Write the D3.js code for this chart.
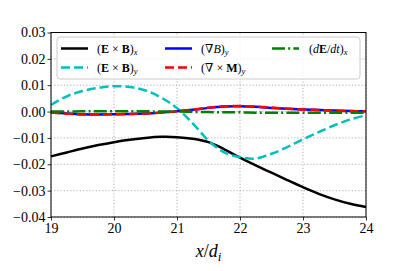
<!DOCTYPE html>
<html>
<head>
<meta charset="utf-8">
<script src="https://cdn.jsdelivr.net/npm/d3@7"></script>
<style>
  body { margin: 0; background: #fff; }
  svg { display: block; }
  text { font-family: 'Liberation Serif', 'DejaVu Serif', serif; }
</style>
</head>
<body>
<svg id="chart" width="407" height="271"></svg>
<script>
const xs = [19, 19.25, 19.5, 19.75, 20, 20.25, 20.5, 20.75, 21, 21.25, 21.5,
            21.75, 22, 22.25, 22.5, 22.75, 23, 23.25, 23.5, 23.75, 24];

const exbX = [-0.0170, -0.0155, -0.0140, -0.0127, -0.0116, -0.0107, -0.0100, -0.0096, -0.0097, -0.0103, -0.0116,
              -0.0143, -0.0175, -0.0204, -0.0232, -0.0260, -0.0287, -0.0312, -0.0333, -0.0350, -0.0362];
const exbY = [0.0025, 0.0058, 0.0078, 0.0090, 0.0096, 0.0093, 0.0080, 0.0053, 0.0013, -0.0045, -0.0110,
              -0.0155, -0.0173, -0.0178, -0.0160, -0.0135, -0.0105, -0.0078, -0.0052, -0.0030, -0.0014];
const gradB = [-0.0003, -0.0007, -0.0010, -0.0011, -0.0010, -0.0009, -0.0007, -0.0004, 0.0001, 0.0007, 0.0014,
               0.0019, 0.0020, 0.0018, 0.0014, 0.0011, 0.0008, 0.0006, 0.0004, 0.0002, 0.0001];
const curlM = [-0.0004, -0.0008, -0.0011, -0.0011, -0.0010, -0.0009, -0.0007, -0.0004, 0.0001, 0.0007, 0.0015,
               0.0020, 0.0021, 0.0019, 0.0015, 0.0011, 0.0008, 0.0006, 0.0004, 0.0002, 0.0001];
const dEdt = [0.0000, 0.0000, 0.0001, 0.0001, 0.0001, 0.0001, 0.0001, 0.0000, 0.0000, -0.0001, -0.0002,
              -0.0003, -0.0003, -0.0004, -0.0004, -0.0004, -0.0004, -0.0004, -0.0004, -0.0004, -0.0004];

const xTicks = [19, 20, 21, 22, 23, 24];
const yTicks = [-0.04, -0.03, -0.02, -0.01, 0.00, 0.01, 0.02, 0.03];

const series = [
  { name: 'exbx', y: exbX, color: '#000000', dash: null },
  { name: 'exby', y: exbY, color: '#00bfbf', dash: '9,4' },
  { name: 'gradb', y: gradB, color: '#0000ff', dash: null },
  { name: 'curlm', y: curlM, color: '#ff0000', dash: '9,4' },
  { name: 'dedt', y: dEdt, color: '#008000', dash: '13,3.2,2,3.2' }
];

const svg = d3.select('#chart');
const margin = { left: 51, right: 41, top: 32.5, bottom: 54 };
const width = 407, height = 271;

const x = d3.scaleLinear().domain([19, 24]).range([margin.left, width - margin.right]);
const y = d3.scaleLinear().domain([-0.04, 0.03]).range([height - margin.bottom, margin.top]);

// grid
const grid = svg.append('g');
grid.selectAll('line.gx').data(xTicks).enter().append('line')
  .attr('x1', d => x(d)).attr('x2', d => x(d))
  .attr('y1', y(-0.04)).attr('y2', y(0.03))
  .attr('stroke', '#b0b0b0').attr('stroke-width', 1).attr('stroke-dasharray', '1.2,2');
grid.selectAll('line.gy').data(yTicks).enter().append('line')
  .attr('x1', x(19)).attr('x2', x(24))
  .attr('y1', d => y(d)).attr('y2', d => y(d))
  .attr('stroke', '#b0b0b0').attr('stroke-width', 1).attr('stroke-dasharray', '1.2,2');

// curves
const line = d3.line()
  .x((d, i) => x(xs[i]))
  .y(d => y(d))
  .curve(d3.curveCatmullRom);

svg.append('g').selectAll('path').data(series).enter().append('path')
  .attr('d', d => line(d.y))
  .attr('fill', 'none')
  .attr('stroke', d => d.color)
  .attr('stroke-width', 2.5)
  .attr('stroke-dasharray', d => d.dash);

// axes
const fmt = d => d3.format('.2f')(d).replace('-', '\u2212');
const xAxis = svg.append('g')
  .attr('transform', `translate(0,${y(-0.04)})`)
  .call(d3.axisBottom(x).tickValues(xTicks).tickSize(3.5).tickPadding(3).tickFormat(d3.format('d')));
const yAxis = svg.append('g')
  .attr('transform', `translate(${x(19)},0)`)
  .call(d3.axisLeft(y).tickValues(yTicks).tickSize(3.5).tickPadding(2).tickFormat(fmt));
[xAxis, yAxis].forEach(a => {
  a.select('.domain').remove();
  a.selectAll('line').attr('stroke', '#000').attr('stroke-width', 0.8);
  a.selectAll('text').attr('font-family', "'Liberation Serif', serif")
    .attr('font-size', 14).attr('fill', '#000');
});

// frame
svg.append('rect')
  .attr('x', x(19)).attr('y', y(0.03))
  .attr('width', x(24) - x(19)).attr('height', y(-0.04) - y(0.03))
  .attr('fill', 'none').attr('stroke', '#000').attr('stroke-width', 1);

// x label
const xl = svg.append('text')
  .attr('x', (x(19) + x(24)) / 2).attr('y', 257)
  .attr('text-anchor', 'middle')
  .attr('font-size', 18);
xl.append('tspan').attr('font-style', 'italic').text('x');
xl.append('tspan').text('/');
xl.append('tspan').attr('font-style', 'italic').text('d');
xl.append('tspan').attr('font-style', 'italic').attr('font-size', 13).attr('dy', 4).text('i');

// legend
const lg = svg.append('g');
lg.append('rect')
  .attr('x', 57).attr('y', 37).attr('width', 303).attr('height', 42)
  .attr('rx', 3).attr('fill', 'rgba(255,255,255,0.8)')
  .attr('stroke', '#cccccc').attr('stroke-width', 1);

const legendItems = [
  { s: series[0], lx: 61, ly: 48.5, parts: [['(', ''], ['E', 'b'], [' × ', ''], ['B', 'b'], [')', ''], ['x', 'si']] },
  { s: series[1], lx: 61, ly: 67.5, parts: [['(', ''], ['E', 'b'], [' × ', ''], ['B', 'b'], [')', ''], ['y', 'si']] },
  { s: series[2], lx: 165, ly: 48.5, parts: [['(∇', ''], ['B', 'i'], [')', ''], ['y', 'si']] },
  { s: series[3], lx: 165, ly: 67.5, parts: [['(∇ × ', ''], ['M', 'b'], [')', ''], ['y', 'si']] },
  { s: series[4], lx: 272, ly: 48.5, parts: [['(', ''], ['d', 'i'], ['E', 'b'], ['/', ''], ['dt', 'i'], [')', ''], ['x', 'si']] }
];

legendItems.forEach(it => {
  lg.append('line')
    .attr('x1', it.lx).attr('x2', it.lx + 27)
    .attr('y1', it.ly).attr('y2', it.ly)
    .attr('stroke', it.s.color).attr('stroke-width', 2.5)
    .attr('stroke-dasharray', it.s.dash);
  const t = lg.append('text')
    .attr('x', it.lx + (it.s.name === 'dedt' ? 37 : 36)).attr('y', it.ly + 4)
    .attr('font-size', 12).attr('fill', '#000');
  it.parts.forEach(([txt, st]) => {
    const sp = t.append('tspan').text(txt);
    if (st === 'b') sp.attr('font-weight', 'bold');
    if (st === 'i') sp.attr('font-style', 'italic');
    if (st === 'si') {
      sp.attr('font-style', 'italic').attr('font-size', 8.5).attr('dy', 2.5);
    }
  });
});
</script>
</body>
</html>
